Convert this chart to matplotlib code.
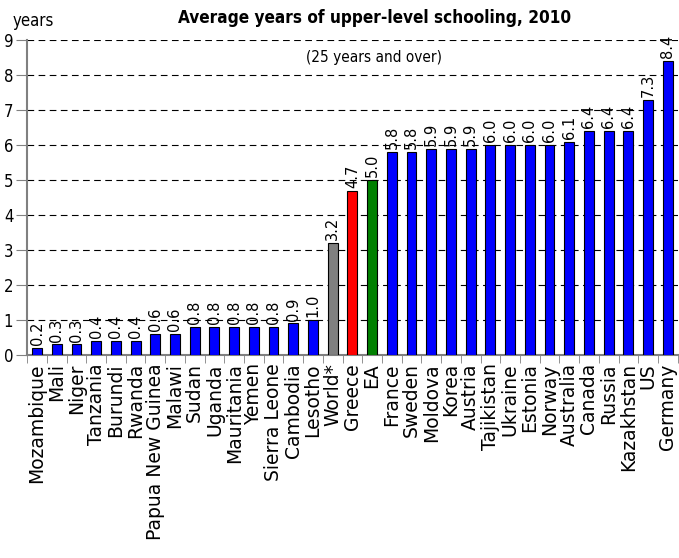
import numpy as np
import matplotlib
matplotlib.use("Agg")
import matplotlib.pyplot as plt

# datos
paises = ["Mozambique", "Mali", "Niger", "Tanzania", "Burundi", "Rwanda",
          "Papua New Guinea", "Malawi", "Sudan", "Uganda", "Mauritania", "Yemen",
          "Sierra Leone", "Cambodia", "Lesotho", "World*", "Greece", "EA",
          "France", "Sweden", "Moldova", "Korea", "Austria", "Tajikistan",
          "Ukraine", "Estonia", "Norway", "Australia", "Canada", "Russia",
          "Kazakhstan", "US", "Germany"]
valores = [0.2, 0.3, 0.3, 0.4, 0.4, 0.4, 0.6, 0.6, 0.8, 0.8, 0.8, 0.8, 0.8,
           0.9, 1.0, 3.2, 4.7, 5.0, 5.8, 5.8, 5.9, 5.9, 5.9, 6.0, 6.0, 6.0,
           6.0, 6.1, 6.4, 6.4, 6.4, 7.3, 8.4]
colores = ["#0000FF"] * 15 + ["#808080", "#FF0000", "#008000"] + ["#0000FF"] * 15

plt.rcParams['font.family'] = 'DejaVu Sans'

fig = plt.figure(figsize=(6.79, 5.58), dpi=100)
ax = fig.add_axes([0.040, 0.364, 0.958, 0.564])

x = np.arange(len(paises))
ax.bar(x, valores, width=0.5, color=colores, edgecolor="black", linewidth=0.8, zorder=3)

# etiquetas de valor encima de cada barra
for xi, v in zip(x, valores):
    ax.text(xi, v + 0.08, f"{v:.1f}", rotation=90, ha="center", va="bottom",
            fontsize=10.5, zorder=4)

ax.set_xlim(-0.5, len(paises) - 0.5)
ax.set_ylim(0, 9)
ax.set_yticks(range(0, 10))
ax.set_yticklabels([str(i) for i in range(10)], fontsize=12, stretch="condensed")
ax.tick_params(axis="y", length=8, color="gray", pad=2)
ax.yaxis.grid(True, linestyle=(0, (6, 4)), color="black", linewidth=0.8)

ax.set_xticks(x)
ax.set_xticklabels(paises, rotation=90, fontsize=13.5)
ax.tick_params(axis="x", length=0, pad=6)
ax.set_xticks(np.arange(-0.5, len(paises)), minor=True)
ax.tick_params(axis="x", which="minor", length=6, color="gray")

for s in ["top", "right"]:
    ax.spines[s].set_visible(False)
ax.spines["left"].set_color("gray")
ax.spines["bottom"].set_color("gray")
ax.spines["left"].set_linewidth(1.5)
ax.spines["bottom"].set_linewidth(1.5)

fig.text(0.552, 0.968, "Average years of upper-level schooling, 2010", ha="center",
         va="center", fontsize=12.3, fontweight="bold", stretch="condensed")
fig.text(0.018, 0.963, "years", ha="left", va="center", fontsize=12, stretch="condensed")
ax.text(0.533, 0.97, "(25 years and over)", transform=ax.transAxes, ha="center",
        va="top", fontsize=11, stretch="condensed",
        bbox=dict(facecolor="white", edgecolor="none", pad=1))

fig.savefig("out.png", dpi=100)
